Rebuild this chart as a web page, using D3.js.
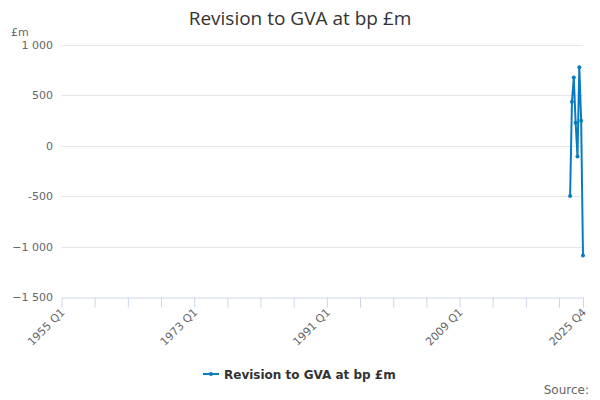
<!DOCTYPE html>
<html>
<head>
<meta charset="utf-8">
<script src="https://cdn.jsdelivr.net/npm/d3@7"></script>
<style>
body{margin:0;background:#fff;}
text{font-family:"DejaVu Sans",sans-serif;}
</style>
</head>
<body>
<svg id="chart" width="600" height="400"></svg>
<script>
// Data
const startYear = 1955, endYear = 2025;
const quarters = [];
for (let yr = startYear; yr <= endYear; yr++) for (let q = 1; q <= 4; q++) quarters.push(yr + " Q" + q);
const seriesName = "Revision to GVA at bp £m";
const dataQuarters = ["2024 Q1","2024 Q2","2024 Q3","2024 Q4","2025 Q1","2025 Q2","2025 Q3","2025 Q4"];
const dataValues = [-497, 438, 677, 229, -106, 780, 249, -1088];
const yTicks = [-1500, -1000, -500, 0, 500, 1000];
const xLabels = ["1955 Q1","1973 Q1","1991 Q1","2009 Q1","2025 Q4"];

(function(){
const svg = d3.select("#chart");
const pLeft = 61.5, pRight = 583, pTop = 45, pBottom = 297;
const color = "#0b7bc1";

const x = d3.scaleLinear().domain([0, quarters.length - 1]).range([pLeft, pRight]);
const y = d3.scaleLinear().domain([-1500, 1000]).range([pBottom, pTop]);

// title
svg.append("text").attr("x", 300).attr("y", 25).attr("text-anchor", "middle")
  .style("font-family", "'Open Sans',sans-serif").style("font-size", "19px").attr("fill", "#333")
  .text("Revision to GVA at bp £m");
svg.append("text").attr("x", 11).attr("y", 36).style("font-size", "11px").attr("fill", "#666").text("£m");

// grid
svg.append("g").selectAll("line").data(yTicks.filter(d => d !== -1500)).join("line")
  .attr("x1", pLeft).attr("x2", pRight).attr("y1", d => Math.round(y(d)) + 0.5).attr("y2", d => Math.round(y(d)) + 0.5)
  .attr("stroke", "#e6e6e6");

// y labels
const fmt = v => Math.abs(v) >= 1000 ? d3.format(",")(v).replace(",", " ") : String(v);
svg.append("g").selectAll("text").data(yTicks).join("text")
  .attr("x", 53).attr("y", d => y(d) + 4).attr("text-anchor", "end")
  .style("font-size", "11px").attr("fill", "#666").text(fmt);

// x axis
const tickIdx = d3.range(0, quarters.length, 18).concat([quarters.length - 1]);
const xa = d3.axisBottom(x).tickValues(tickIdx).tickSize(10).tickSizeOuter(0).tickFormat("");
const gx = svg.append("g").attr("transform", `translate(0,${pBottom + 0.5})`).call(xa);
gx.select(".domain").attr("stroke", "#ccd6eb");
gx.selectAll(".tick line").attr("stroke", "#ccd6eb");
svg.append("g").selectAll("text").data(xLabels).join("text")
  .attr("transform", d => `translate(${x(quarters.indexOf(d)) + 4},${pBottom + 16}) rotate(-45)`)
  .attr("text-anchor", "end").style("font-size", "11px").attr("fill", "#666").text(d => d);

// line
const pts = dataQuarters.map((q, i) => ({ i: quarters.indexOf(q), v: dataValues[i] }));
svg.append("path").datum(pts).attr("fill", "none").attr("stroke", color).attr("stroke-width", 2)
  .attr("stroke-linejoin", "round")
  .attr("d", d3.line().x(d => x(d.i)).y(d => y(d.v)));
svg.append("g").selectAll("circle").data(pts).join("circle")
  .attr("cx", d => x(d.i)).attr("cy", d => y(d.v)).attr("r", 2).attr("fill", color);

// legend
const lg = svg.append("g").attr("transform", "translate(203,374)");
lg.append("line").attr("x1", 0).attr("x2", 16).attr("y1", 0).attr("y2", 0).attr("stroke", color).attr("stroke-width", 2);
lg.append("circle").attr("cx", 8).attr("cy", 0).attr("r", 2).attr("fill", color);
lg.append("text").attr("x", 21).attr("y", 4.5).style("font-size", "12px").style("font-weight", "bold").attr("fill", "#333").text(seriesName);

// source
svg.append("text").attr("x", 589).attr("y", 394).attr("text-anchor", "end")
  .style("font-size", "12px").attr("fill", "#666").text("Source:");
})();
</script>
</body>
</html>
